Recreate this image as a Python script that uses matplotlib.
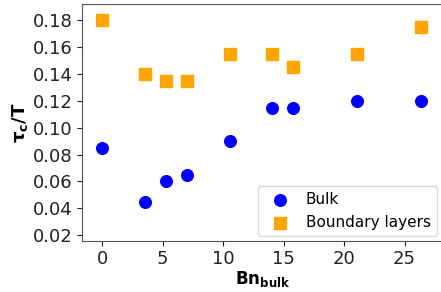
import matplotlib
matplotlib.use("Agg")
import matplotlib.pyplot as plt

bn_bulk = [0, 3.5, 5.3, 7.0, 10.6, 14.0, 15.8, 21.1, 26.4]
tau_bulk = [0.085, 0.045, 0.060, 0.065, 0.090, 0.115, 0.115, 0.120, 0.120]
tau_boundary = [0.180, 0.140, 0.135, 0.135, 0.155, 0.155, 0.145, 0.155, 0.175]
xticks = [0, 5, 10, 15, 20, 25]
yticks = [0.02, 0.04, 0.06, 0.08, 0.10, 0.12, 0.14, 0.16, 0.18]

fig = plt.figure(figsize=(4.41, 2.92), dpi=100)
ax = fig.add_axes([0.185, 0.176, 0.82, 0.81])
ax.scatter(bn_bulk, tau_bulk, s=70, marker='o', color='#0000ff', label='Bulk', zorder=3)
ax.scatter(bn_bulk, tau_boundary, s=70, marker='s', color='#ffa500', label='Boundary layers', zorder=3)
ax.set_xlim(-1.72, 28.2)
ax.set_ylim(0.016, 0.192)
ax.set_xticks(xticks)
ax.set_yticks(yticks)
ax.set_yticklabels([f"{v:.2f}" for v in yticks])
ax.tick_params(labelsize=13, colors='#222222', pad=3)
ax.set_xlabel(r'$\mathbf{Bn_{bulk}}$', fontsize=12, labelpad=1)
ax.set_ylabel(r'$\mathbf{\tau_c/T}$', fontsize=13, labelpad=2)
for s in ax.spines.values():
    s.set_color('#555555')
ax.spines['right'].set_visible(False)
ax.legend(loc='lower right', bbox_to_anchor=(0.995, 0.0), fontsize=11, frameon=True,
          borderaxespad=0.3, handletextpad=0.7)
fig.savefig('out.png', dpi=100)
